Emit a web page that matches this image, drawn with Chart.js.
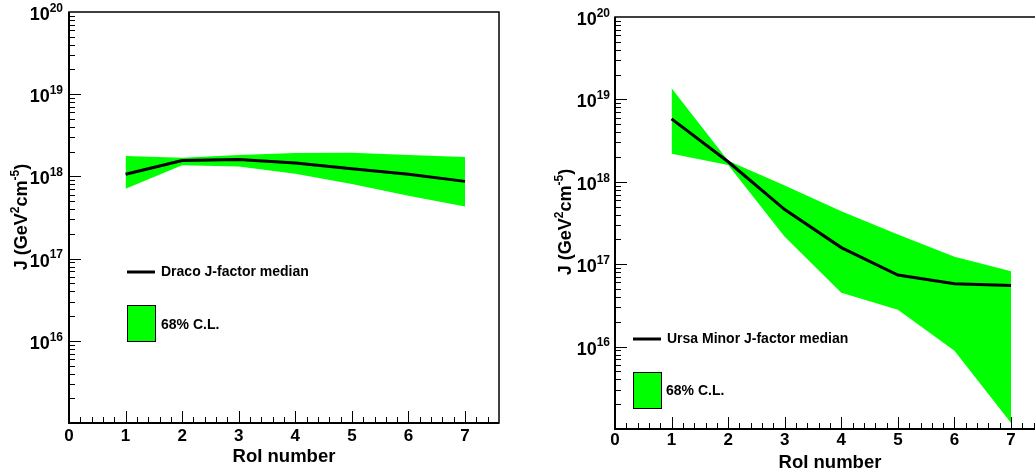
<!DOCTYPE html>
<html lang="en">
<head>
<meta charset="UTF-8">
<title>J-factor per RoI</title>
<script src="https://cdn.jsdelivr.net/npm/chart.js"></script>
<style>
  html, body { margin: 0; padding: 0; background: #fff; overflow: hidden; }
  #wrap { position: relative; width: 1035px; height: 476px; overflow: hidden; }
  #draco { position: absolute; left: 0; top: 0; }
  #umi { position: absolute; left: 520px; top: 0; }
</style>
</head>
<body>
<div id="wrap">
  <canvas id="draco" width="520" height="476"></canvas>
  <canvas id="umi" width="540" height="476"></canvas>
</div>
<script>
// RoI index (x axis)
const roi = [1, 2, 3, 4, 5, 6, 7];

// Draco J-factor (GeV^2 cm^-5)
const dracoMedian = [1.06e18, 1.56e18, 1.61e18, 1.46e18, 1.24e18, 1.06e18, 0.87e18];
const dracoUpper  = [1.77e18, 1.69e18, 1.82e18, 1.92e18, 1.94e18, 1.82e18, 1.72e18];
const dracoLower  = [7.1e17, 1.37e18, 1.32e18, 1.08e18, 8.1e17, 5.8e17, 4.3e17];

// Ursa Minor J-factor (GeV^2 cm^-5)
const umiMedian = [5.8e18, 1.75e18, 4.6e17, 1.59e17, 7.4e16, 5.8e16, 5.5e16];
const umiUpper  = [1.37e19, 1.8e18, 9.0e17, 4.4e17, 2.3e17, 1.23e17, 8.2e16];
const umiLower  = [2.19e18, 1.6e18, 2.15e17, 4.5e16, 2.8e16, 8.9e15, 1.18e15];

// axis ticks
const xTickLabels = ['0', '1', '2', '3', '4', '5', '6', '7'];
const yDecades = [15, 16, 17, 18, 19, 20];

const FONT = '"Liberation Sans", Arial, Helvetica, sans-serif';
const GREEN = '#00ff00';

const pts = vals => roi.map((x, i) => ({ x: x, y: vals[i] }));

// draw a run of [text, isSuperscript] pieces centred on (0,0)
function drawPieces(ctx, pieces, big, small, raise) {
    let w = 0;
    pieces.forEach(p => {
        ctx.font = 'bold ' + (p[1] ? small : big) + 'px ' + FONT;
        w += ctx.measureText(p[0]).width;
    });
    let x = -w / 2;
    ctx.textAlign = 'left';
    ctx.textBaseline = 'middle';
    pieces.forEach(p => {
        ctx.font = 'bold ' + (p[1] ? small : big) + 'px ' + FONT;
        ctx.fillText(p[0], x, p[1] ? -raise : 0);
        x += ctx.measureText(p[0]).width;
    });
}

// ROOT-like frame, ticks, labels and legend
const rootAxes = {
    id: 'rootAxes',
    afterDraw(chart, args, o) {
        const ctx = chart.ctx;
        const a = chart.chartArea;
        const xs = chart.scales.x;
        const ys = chart.scales.y;
        ctx.save();
        ctx.fillStyle = '#000';
        ctx.strokeStyle = '#000';

        // frame
        ctx.lineWidth = 1.5;
        ctx.strokeRect(a.left, a.top, a.right - a.left, a.bottom - a.top);
        ctx.lineWidth = 2;
        ctx.beginPath();
        ctx.moveTo(a.left, a.top);
        ctx.lineTo(a.left, a.bottom);
        ctx.lineTo(a.right, a.bottom);
        ctx.stroke();

        // x ticks
        ctx.lineWidth = 1;
        ctx.beginPath();
        for (let i = 1; i < 38; i++) {
            const px = Math.round(xs.getPixelForValue(i / 5)) + 0.5;
            const len = i % 5 === 0 ? 12 : 6;
            ctx.moveTo(px, a.bottom);
            ctx.lineTo(px, a.bottom - len);
        }
        // y ticks
        yDecades.forEach(e => {
            for (let m = 1; m <= 9; m++) {
                if (e === 20 || (m === 1 && e === 15)) continue;
                const py = Math.round(ys.getPixelForValue(m * Math.pow(10, e))) + 0.5;
                const len = m === 1 ? 12 : 6;
                ctx.moveTo(a.left, py);
                ctx.lineTo(a.left + len, py);
            }
        });
        ctx.stroke();

        // x tick labels
        ctx.font = 'bold ' + o.tickFont + 'px ' + FONT;
        ctx.textAlign = 'center';
        ctx.textBaseline = 'middle';
        xTickLabels.forEach((t, i) => {
            ctx.fillText(t, xs.getPixelForValue(i), o.xLabelY);
        });

        // y tick labels 10^n
        yDecades.forEach(e => {
            if (e === 15) return;
            const py = ys.getPixelForValue(Math.pow(10, e));
            ctx.textAlign = 'right';
            ctx.textBaseline = 'middle';
            ctx.font = 'bold 12px ' + FONT;
            const sw = ctx.measureText(String(e)).width;
            ctx.fillText(String(e), a.left - o.labelGap, py - 3.5);
            ctx.font = 'bold 18px ' + FONT;
            ctx.fillText('10', a.left - o.labelGap - sw, py + 3);
        });

        // axis titles
        ctx.save();
        ctx.translate(o.xTitle[0], o.xTitle[1]);
        drawPieces(ctx, [['RoI number', false]], 18.5, 12, 0);
        ctx.restore();
        ctx.save();
        ctx.translate(o.yTitle[0], o.yTitle[1]);
        ctx.rotate(-Math.PI / 2);
        drawPieces(ctx, [['J (GeV', false], ['2', true], ['cm', false], ['-5', true], [')', false]], 18, 12, 6);
        ctx.restore();

        // legend
        const L = o.legend;
        ctx.lineWidth = 3;
        ctx.beginPath();
        ctx.moveTo(L.x0, L.lineY);
        ctx.lineTo(L.x1, L.lineY);
        ctx.stroke();
        ctx.fillStyle = GREEN;
        ctx.fillRect(L.x0, L.boxTop, L.x1 - L.x0, L.boxBottom - L.boxTop);
        ctx.lineWidth = 1;
        ctx.strokeRect(L.x0 + 0.5, L.boxTop + 0.5, L.x1 - L.x0, L.boxBottom - L.boxTop);
        ctx.fillStyle = '#000';
        ctx.font = 'bold 14px ' + FONT;
        ctx.textAlign = 'left';
        ctx.textBaseline = 'middle';
        ctx.fillText(L.text, L.textX, L.lineY);
        ctx.fillText('68% C.L.', L.boxTextX, L.boxTextY);

        ctx.restore();
    }
};

function makePanel(id, median, upper, lower, padding, axesOpts) {
    const ctx = document.getElementById(id).getContext('2d');
    // dataset 0 is drawn last, so the median sits on top of the band
    return new Chart(ctx, {
        type: 'line',
        data: {
            datasets: [
                {
                    label: 'median',
                    data: pts(median),
                    borderColor: '#000',
                    borderWidth: 3,
                    fill: false,
                    pointRadius: 0
                },
                {
                    label: 'upper',
                    data: pts(upper),
                    borderWidth: 0,
                    borderColor: 'rgba(0,0,0,0)',
                    backgroundColor: GREEN,
                    fill: '+1',
                    pointRadius: 0
                },
                {
                    label: 'lower',
                    data: pts(lower),
                    borderWidth: 0,
                    borderColor: 'rgba(0,0,0,0)',
                    fill: false,
                    pointRadius: 0
                }
            ]
        },
        options: {
            responsive: false,
            animation: false,
            devicePixelRatio: 1,
            layout: { padding: padding },
            plugins: {
                legend: { display: false },
                tooltip: { enabled: false },
                rootAxes: axesOpts
            },
            scales: {
                x: { type: 'linear', min: 0, max: 7.6, display: false },
                y: { type: 'logarithmic', min: 1e15, max: 1e20, display: false }
            }
        },
        plugins: [rootAxes]
    });
}

makePanel('draco', dracoMedian, dracoUpper, dracoLower,
    { left: 69, right: 21, top: 12, bottom: 53 },
    {
        tickFont: 17, xLabelY: 436, labelGap: 6,
        xTitle: [284, 457], yTitle: [22, 217],
        legend: {
            x0: 127, x1: 155, lineY: 272, text: 'Draco J-factor median', textX: 161,
            boxTop: 305, boxBottom: 341, boxTextX: 161, boxTextY: 325
        }
    });

makePanel('umi', umiMedian, umiUpper, umiLower,
    { left: 95, right: 15, top: 17, bottom: 47 },
    {
        tickFont: 17, xLabelY: 440, labelGap: 5,
        xTitle: [310, 463], yTitle: [46, 222],
        legend: {
            x0: 113, x1: 141, lineY: 339, text: 'Ursa Minor J-factor median', textX: 147,
            boxTop: 372, boxBottom: 408, boxTextX: 146, boxTextY: 391
        }
    });
</script>
</body>
</html>
